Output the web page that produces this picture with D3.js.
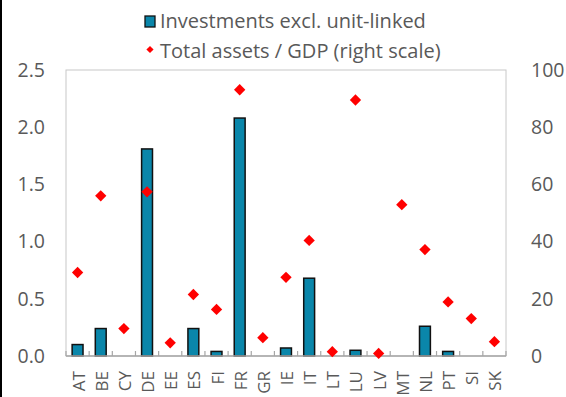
<!DOCTYPE html>
<html>
<head>
<meta charset="utf-8">
<script src="https://cdn.jsdelivr.net/npm/d3@7"></script>
<style>
  html, body { margin: 0; padding: 0; background: #fff; }
  svg { display: block; font-family: "Open Sans", sans-serif; }
</style>
</head>
<body>
<svg id="chart" width="566" height="397"></svg>
<script>
const categories = ["AT","BE","CY","DE","EE","ES","FI","FR","GR","IE","IT","LT","LU","LV","MT","NL","PT","SI","SK"];
const investments = [0.10,0.24,0,1.81,0,0.24,0.04,2.08,0,0.07,0.68,0,0.05,0,0,0.26,0.04,0,0];
const assetsGdp = [29.2,56.0,9.6,57.4,4.6,21.5,16.3,93.1,6.4,27.5,40.4,1.5,89.5,0.9,52.9,37.2,18.9,13.1,5.0];
const leftTicks = [0, 0.5, 1.0, 1.5, 2.0, 2.5];
const rightTicks = [0, 20, 40, 60, 80, 100];
const legendLabels = ["Investments excl. unit-linked", "Total assets / GDP (right scale)"];

const W = 566, H = 397;
const m = {left: 66, right: 60, top: 70, bottom: 41};
const svg = d3.select("#chart");
const textColor = "#595959";
const barColor = "#0A86AA";

// left black edge
svg.append("rect").attr("x", 0).attr("y", 0).attr("width", 2).attr("height", H).attr("fill", "#000");

const x = d3.scaleBand().domain(categories).range([m.left, W - m.right]).padding(0);
const yL = d3.scaleLinear().domain([0, 2.5]).range([H - m.bottom, m.top]);
const yR = d3.scaleLinear().domain([0, 100]).range([H - m.bottom, m.top]);

// frame
svg.append("rect")
  .attr("x", m.left).attr("y", m.top)
  .attr("width", W - m.left - m.right).attr("height", H - m.top - m.bottom)
  .attr("fill", "none").attr("stroke", "#c8c8c8").attr("stroke-width", 1);

// left axis labels
const gL = svg.append("g").attr("transform", `translate(${m.left},0)`)
  .call(d3.axisLeft(yL).tickValues(leftTicks).tickFormat(d3.format(".1f")).tickSize(0).tickPadding(21));
gL.select(".domain").remove();
gL.selectAll("text").attr("fill", textColor).style("font-size", "19.5px").style("font-family", "'Open Sans', sans-serif");

// right axis labels
const gR = svg.append("g").attr("transform", `translate(${W - m.right},0)`)
  .call(d3.axisRight(yR).tickValues(rightTicks).tickSize(0).tickPadding(25));
gR.select(".domain").remove();
gR.selectAll("text").attr("fill", textColor).style("font-size", "19.5px").style("font-family", "'Open Sans', sans-serif");

// bars
const barW = x.bandwidth() * 0.47;
svg.append("g").selectAll("rect").data(categories).join("rect")
  .attr("x", (d) => x(d) + (x.bandwidth() - barW) / 2)
  .attr("y", (d, i) => yL(investments[i]))
  .attr("width", barW)
  .attr("height", (d, i) => yL(0) - yL(investments[i]))
  .attr("fill", barColor)
  .attr("stroke", "#111")
  .attr("stroke-width", (d, i) => investments[i] > 0 ? 1.5 : 0);

// bottom axis
const gB = svg.append("g").attr("transform", `translate(0,${H - m.bottom})`);
gB.append("line").attr("x1", m.left).attr("x2", W - m.right).attr("y1", 0).attr("y2", 0)
  .attr("stroke", "#a6a6a6").attr("stroke-width", 1.5);
const boundaries = categories.map(d => x(d)).concat([W - m.right]);
gB.selectAll("line.tick").data(boundaries).join("line").attr("class", "tick")
  .attr("x1", d => d).attr("x2", d => d).attr("y1", 0).attr("y2", -5)
  .attr("stroke", "#a6a6a6").attr("stroke-width", 1.2);
gB.selectAll("text").data(categories).join("text")
  .attr("transform", d => `translate(${x(d) + x.bandwidth() / 2 + 7},15) rotate(-90)`)
  .attr("text-anchor", "end")
  .attr("fill", textColor)
  .style("font-size", "17px")
  .text(d => d);

// diamonds
const diamond = d3.symbol().type(d3.symbolSquare).size(64);
svg.append("g").selectAll("path").data(categories).join("path")
  .attr("d", diamond)
  .attr("transform", (d, i) => `translate(${x(d) + x.bandwidth() / 2},${yR(assetsGdp[i])}) rotate(45)`)
  .attr("fill", "#FF0000");

// legend
const lg = svg.append("g");
lg.append("rect").attr("x", 145).attr("y", 16).attr("width", 10).attr("height", 11)
  .attr("fill", barColor).attr("stroke", "#111").attr("stroke-width", 1.3);
lg.append("text").attr("x", 160).attr("y", 27.5).attr("fill", textColor).style("font-size", "20px").text(legendLabels[0]);
lg.append("path").attr("d", d3.symbol().type(d3.symbolSquare).size(26))
  .attr("transform", "translate(150,49.5) rotate(45)").attr("fill", "#FF0000");
lg.append("text").attr("x", 160).attr("y", 58).attr("fill", textColor).style("font-size", "20px").text(legendLabels[1]);
</script>
</body>
</html>
